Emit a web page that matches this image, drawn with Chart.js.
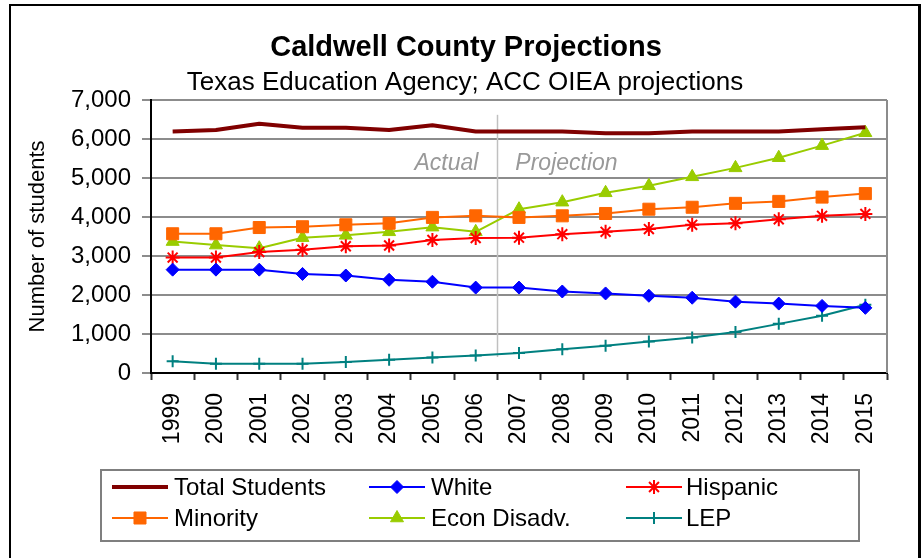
<!DOCTYPE html>
<html>
<head>
<meta charset="utf-8">
<script src="https://cdn.jsdelivr.net/npm/chart.js@4/dist/chart.umd.min.js"></script>
<style>
    html, body { margin: 0; padding: 0; background: #fff; }
    canvas { display: block; }
</style>
</head>
<body>
<canvas id="graficoProjecoes" width="924" height="558"></canvas>
<script>
// dados
const anos = ["1999", "2000", "2001", "2002", "2003", "2004", "2005", "2006",
    "2007", "2008", "2009", "2010", "2011", "2012", "2013", "2014", "2015"];
const totalAlunos = [6190, 6230, 6390, 6290, 6290, 6230, 6350, 6190,
    6190, 6190, 6150, 6150, 6190, 6190, 6190, 6250, 6300];
const brancos = [2650, 2650, 2650, 2540, 2500, 2390, 2340, 2190,
    2190, 2090, 2040, 1980, 1930, 1830, 1780, 1720, 1670];
const hispanicos = [2960, 2960, 3100, 3160, 3250, 3270, 3410, 3460,
    3470, 3560, 3620, 3690, 3800, 3840, 3940, 4030, 4080];
const minorias = [3570, 3570, 3730, 3750, 3800, 3840, 3990, 4030,
    3990, 4030, 4090, 4200, 4250, 4350, 4400, 4510, 4600];
const econDesfav = [3370, 3280, 3200, 3470, 3530, 3620, 3740, 3620,
    4200, 4380, 4620, 4800, 5030, 5260, 5520, 5830, 6160];
const lep = [300, 240, 240, 240, 280, 340, 400, 450,
    510, 610, 700, 810, 910, 1050, 1260, 1470, 1750];
const ticksY = [0, 1000, 2000, 3000, 4000, 5000, 6000, 7000];

const FONTE = "Arial, 'Liberation Sans', sans-serif";

const serie = (label, data, cor, estilo, raio, largura) => ({
    label,
    data,
    borderColor: cor,
    backgroundColor: cor,
    borderWidth: largura,
    pointStyle: estilo || "circle",
    pointRadius: estilo ? raio : 0,
    pointHoverRadius: estilo ? raio : 0,
    pointBorderWidth: estilo === "star" || estilo === "cross" ? 2 : 1,
    tension: 0,
    borderJoinStyle: "round",
});

const datasets = [
    serie("Total Students", totalAlunos, "#800000", null, 0, 4),
    serie("White", brancos, "#0000FF", "rectRot", 6.5, 2),
    serie("Hispanic", hispanicos, "#FF0000", "star", 7, 2),
    serie("Minority", minorias, "#FF6600", "rect", 8.5, 2),
    serie("Econ Disadv.", econDesfav, "#99CC00", "triangle", 7.5, 2),
    serie("LEP", lep, "#008080", "cross", 6, 2),
];

// linha Actual / Projection e borda direita da area
const divisaoPlugin = {
    id: "divisao",
    beforeDatasetsDraw(chart) {
        const { ctx, chartArea, scales } = chart;
        const xMeio = (scales.x.getPixelForValue(7) + scales.x.getPixelForValue(8)) / 2;
        ctx.save();
        ctx.strokeStyle = "#8c8c8c";
        ctx.lineWidth = 2;
        ctx.beginPath();
        ctx.moveTo(chartArea.right, chartArea.top);
        ctx.lineTo(chartArea.right, chartArea.bottom);
        ctx.stroke();

        ctx.strokeStyle = "#c0c0c0";
        ctx.lineWidth = 1.5;
        ctx.beginPath();
        ctx.moveTo(Math.round(xMeio) + 0.5, scales.y.getPixelForValue(6620));
        ctx.lineTo(Math.round(xMeio) + 0.5, scales.y.getPixelForValue(410));
        ctx.stroke();

        ctx.fillStyle = "#999999";
        ctx.font = "italic 23px " + FONTE;
        ctx.textBaseline = "middle";
        const yTexto = scales.y.getPixelForValue(5380);
        ctx.textAlign = "right";
        ctx.fillText("Actual", xMeio - 19, yTexto);
        ctx.textAlign = "left";
        ctx.fillText("Projection", xMeio + 18, yTexto);
        ctx.restore();
    },
};

// fundo, moldura, titulos e legenda
const molduraPlugin = {
    id: "moldura",
    beforeDraw(chart) {
        const { ctx, width, height } = chart;
        ctx.save();
        ctx.fillStyle = "#ffffff";
        ctx.fillRect(0, 0, width, height);
        ctx.restore();
    },
    afterDraw(chart) {
        const { ctx } = chart;
        ctx.save();
        ctx.strokeStyle = "#000000";
        ctx.lineWidth = 2;
        ctx.strokeRect(10, 5, 909, 600);
        ctx.fillStyle = "#000000";
        ctx.fillRect(918, 4, 3, 560);

        ctx.textAlign = "center";
        ctx.textBaseline = "middle";
        ctx.font = "bold 29px " + FONTE;
        ctx.fillText("Caldwell County Projections", 466, 48);
        ctx.font = "26px " + FONTE;
        ctx.fillText("Texas Education Agency; ACC OIEA projections", 465, 83);

        // legenda
        ctx.strokeStyle = "#7f7f7f";
        ctx.lineWidth = 2;
        ctx.strokeRect(101, 470, 758, 71);

        const colunas = [
            { linha: 112, texto: 174 },
            { linha: 369, texto: 431 },
            { linha: 626, texto: 686 },
        ];
        const linhas = [487, 518];
        ctx.font = "24px " + FONTE;
        ctx.textAlign = "left";
        chart.data.datasets.forEach((ds, i) => {
            const col = colunas[i % 3];
            const y = linhas[Math.floor(i / 3)];
            ctx.strokeStyle = ds.borderColor;
            ctx.fillStyle = ds.backgroundColor;
            ctx.lineWidth = ds.borderWidth;
            ctx.beginPath();
            ctx.moveTo(col.linha, y);
            ctx.lineTo(col.linha + 56, y);
            ctx.stroke();
            if (ds.pointRadius > 0) {
                ctx.lineWidth = ds.pointBorderWidth;
                Chart.helpers.drawPoint(ctx, {
                    pointStyle: ds.pointStyle,
                    radius: ds.pointRadius,
                    borderWidth: ds.pointBorderWidth,
                    rotation: 0,
                }, col.linha + 28, y);
            }
            ctx.fillStyle = "#000000";
            ctx.fillText(ds.label, col.texto, y + 1);
        });
        ctx.restore();
    },
};

new Chart(document.getElementById("graficoProjecoes"), {
    type: "line",
    data: {
        labels: anos,
        datasets,
    },
    plugins: [divisaoPlugin, molduraPlugin],
    options: {
        responsive: false,
        animation: false,
        devicePixelRatio: 1,
        layout: {
            padding: { left: 0, right: 37, top: 100, bottom: 0 },
        },
        plugins: {
            legend: { display: false },
            tooltip: { enabled: false },
        },
        scales: {
            x: {
                offset: true,
                afterFit: (s) => { s.height = 185; },
                grid: {
                    display: true,
                    offset: true,
                    drawOnChartArea: false,
                    tickLength: 7,
                    tickColor: "#333333",
                    tickWidth: 2,
                },
                border: { color: "#000000", width: 2 },
                ticks: {
                    autoSkip: false,
                    minRotation: 90,
                    maxRotation: 90,
                    padding: 13,
                    color: "#000000",
                    font: { family: FONTE, size: 23 },
                },
            },
            y: {
                min: 0,
                max: 7000,
                afterFit: (s) => { s.width = 151; },
                afterBuildTicks: (s) => { s.ticks = ticksY.map((v) => ({ value: v })); },
                grid: {
                    color: "#8c8c8c",
                    lineWidth: 2,
                    tickLength: 9,
                },
                border: { color: "#000000", width: 2 },
                ticks: {
                    padding: 11,
                    color: "#000000",
                    font: { family: FONTE, size: 24 },
                    callback: (v) => Number(v).toLocaleString("en-US"),
                },
                title: {
                    display: true,
                    text: "Number of students",
                    color: "#000000",
                    font: { family: FONTE, size: 22 },
                    padding: { top: 25, bottom: 0 },
                },
            },
        },
    },
});
</script>
</body>
</html>
